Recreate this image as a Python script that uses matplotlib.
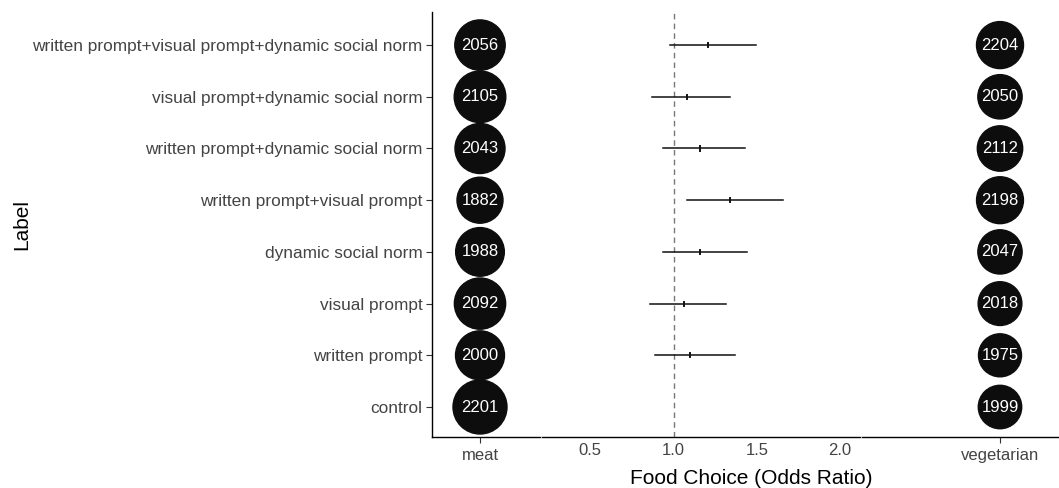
import matplotlib
matplotlib.use("Agg")
import matplotlib.pyplot as plt
import numpy as np

plt.rcParams['font.family'] = ['Liberation Sans', 'DejaVu Sans']

labels = ["control", "written prompt", "visual prompt", "dynamic social norm",
          "written prompt+visual prompt", "written prompt+dynamic social norm",
          "visual prompt+dynamic social norm",
          "written prompt+visual prompt+dynamic social norm"]
n_meat = [2201, 2000, 2092, 1988, 1882, 2043, 2105, 2056]
n_veg = [1999, 1975, 2018, 2047, 2198, 2112, 2050, 2204]
or_est = [None, 1.10, 1.064, 1.16, 1.34, 1.157, 1.08, 1.21]
or_lo = [None, 0.89, 0.86, 0.935, 1.08, 0.935, 0.87, 0.978]
or_hi = [None, 1.367, 1.315, 1.44, 1.655, 1.43, 1.337, 1.494]
x_ticks = [0.5, 1.0, 1.5, 2.0]

W, H = 1059, 488
fig = plt.figure(figsize=(W / 100, H / 100), dpi=100)

def px_ax(x0, x1, y0=12, y1=437):
    return fig.add_axes([x0 / W, 1 - y1 / H, (x1 - x0) / W, (y1 - y0) / H])

axL = px_ax(432, 540)
axM = px_ax(542, 860)
axR = px_ax(862, 1059)

ypos = np.arange(1, len(labels) + 1)
ylim = (0.42, 8.64)
grey = '#444444'

def circ_sizes(ns, dmin, dmax):
    ns = np.asarray(ns, float)
    d = dmin + (ns - ns.min()) / (ns.max() - ns.min()) * (dmax - dmin)
    d_pt = d * 72 / 100
    return d_pt ** 2

for ax, ns, name, rng, xl in [(axL, n_meat, 'meat', (46, 54), (-0.48, 0.60)),
                               (axR, n_veg, 'vegetarian', (43, 47), (-1.38, 0.59))]:
    ax.scatter(np.zeros(len(ns)), ypos, s=circ_sizes(ns, *rng), color='#0d0d0d',
               edgecolors='#0d0d0d', zorder=3, clip_on=False)
    for y, v in zip(ypos, ns):
        ax.text(0, y, str(v), color='white', ha='center', va='center', fontsize=12, zorder=4)
    ax.set_xlim(*xl)
    ax.set_ylim(*ylim)
    ax.set_xticks([0])
    ax.set_xticklabels([name], fontsize=12, color=grey)
    ax.tick_params(axis='x', length=4, width=0.8, color='#333333', pad=4)
    for s in ['top', 'right']:
        ax.spines[s].set_visible(False)
    ax.spines['bottom'].set_linewidth(1.0)

axL.set_yticks(ypos)
axL.set_yticklabels(labels, fontsize=12.4, color=grey)
axL.tick_params(axis='y', length=4, width=0.8, color='#333333', pad=3)
axL.spines['left'].set_linewidth(1.0)
axR.spines['left'].set_visible(False)
axR.set_yticks([])
fig.text(22 / W, 1 - 225 / H, 'Label', rotation=90, ha='center', va='center', fontsize=15)

# middle forest panel
axM.axvline(1.0, color='#777777', linestyle=(0, (4, 3)), linewidth=1.0, zorder=1)
for y, e, lo, hi in zip(ypos, or_est, or_lo, or_hi):
    if e is None:
        continue
    axM.plot([lo, hi], [y, y], color='#111111', linewidth=1.1, zorder=2)
    axM.plot([e, e], [y - 0.04, y + 0.04], color='#111111', linewidth=1.4, zorder=3)
axM.set_xlim(0.21, 2.12)
axM.set_ylim(*ylim)
axM.set_xticks(x_ticks)
axM.set_xticklabels([f'{t:.1f}' for t in x_ticks], fontsize=12, color=grey)
axM.tick_params(axis='x', length=0, pad=4)
axM.set_yticks([])
for s in ['top', 'right', 'left']:
    axM.spines[s].set_visible(False)
axM.spines['bottom'].set_linewidth(1.0)

fig.text(751 / W, 1 - 479 / H, 'Food Choice (Odds Ratio)', ha='center', va='center', fontsize=15)

fig.savefig('out.png', dpi=100)
